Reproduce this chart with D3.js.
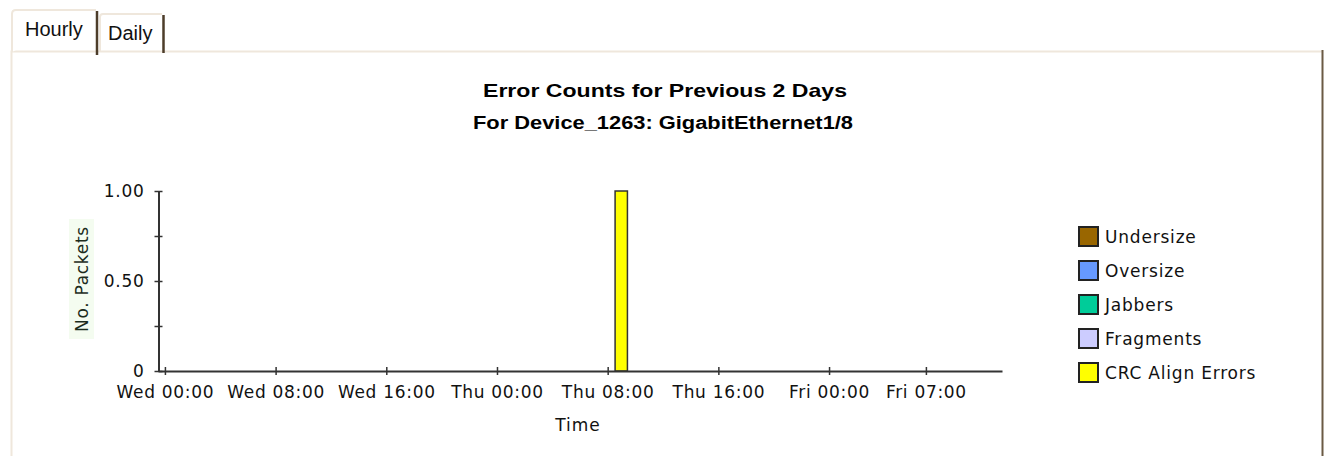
<!DOCTYPE html>
<html>
<head>
<meta charset="utf-8">
<script src="https://cdn.jsdelivr.net/npm/d3@7"></script>
<style>
  body { margin: 0; background: #fff; }
  svg text { font-family: "DejaVu Sans", sans-serif; }
</style>
</head>
<body>
<div id="chart"></div>
<script>
'use strict'

// hours that had errors (every other hour is zero)
const hours = ['2024-01-04T09:00']
const undersize = [0]
const oversize = [0]
const jabbers = [0]
const fragments = [0]
const crcAlign = [1]

const seriesNames = ['Undersize', 'Oversize', 'Jabbers', 'Fragments', 'CRC Align Errors']
const seriesColors = ['#996600', '#6699ff', '#00cc99', '#ccccff', '#ffff00']

const xTicks = ['2024-01-03T00:00', '2024-01-03T08:00', '2024-01-03T16:00', '2024-01-04T00:00',
                '2024-01-04T08:00', '2024-01-04T16:00', '2024-01-05T00:00', '2024-01-05T07:00']
const yTicks = [0, 0.25, 0.5, 0.75, 1]
const yLabels = ['0', '', '0.50', '', '1.00']

const parse = d3.timeParse('%Y-%m-%dT%H:%M')

////////////////////////////////////
//////////// svg setup /////////////
////////////////////////////////////

const svgWidth = 1324, svgHeight = 456
const svg = d3.select('#chart').append('svg')
    .attr('width', svgWidth)
    .attr('height', svgHeight)

// tabs + panel
const tabs = svg.append('g').attr('class', 'tabs')
tabs.append('path')   // panel
    .attr('d', 'M11.5,456 V51.5 H1322')
    .attr('fill', 'none').attr('stroke', '#efe7dc').attr('stroke-width', 2)
tabs.append('line')
    .attr('x1', 1322.5).attr('x2', 1322.5).attr('y1', 50).attr('y2', 456)
    .attr('stroke', '#6b5a44').attr('stroke-width', 2)

// Hourly (active)
tabs.append('path')
    .attr('d', 'M12,52 V14 Q12,10 16,10 H96')
    .attr('fill', '#fff').attr('stroke', '#efe7dc').attr('stroke-width', 2)
tabs.append('line')
    .attr('x1', 97).attr('x2', 97).attr('y1', 11).attr('y2', 55)
    .attr('stroke', '#4d3d2a').attr('stroke-width', 2.5)
tabs.append('text')
    .attr('x', 25).attr('y', 36)
    .style('font-family', '"Liberation Sans", Arial, sans-serif')
    .style('font-size', '20px').attr('fill', '#111')
    .text('Hourly')

// Daily
tabs.append('path')
    .attr('d', 'M100,51 V17 Q100,14 103,14 H162')
    .attr('fill', 'none').attr('stroke', '#efe7dc').attr('stroke-width', 2)
tabs.append('line')
    .attr('x1', 163.5).attr('x2', 163.5).attr('y1', 15).attr('y2', 53)
    .attr('stroke', '#4d3d2a').attr('stroke-width', 2.5)
tabs.append('text')
    .attr('x', 108).attr('y', 40)
    .style('font-family', '"Liberation Sans", Arial, sans-serif')
    .style('font-size', '20px').attr('fill', '#111')
    .text('Daily')

// titles
svg.append('text')
    .attr('x', 665).attr('y', 97)
    .attr('text-anchor', 'middle')
    .style('font-family', '"Liberation Sans", Arial, sans-serif')
    .style('font-weight', 'bold').style('font-size', '19px')
    .attr('textLength', 364).attr('lengthAdjust', 'spacingAndGlyphs')
    .attr('fill', '#000')
    .text('Error Counts for Previous 2 Days')
svg.append('text')
    .attr('x', 663).attr('y', 129)
    .attr('text-anchor', 'middle')
    .style('font-family', '"Liberation Sans", Arial, sans-serif')
    .style('font-weight', 'bold').style('font-size', '18px')
    .attr('textLength', 380).attr('lengthAdjust', 'spacingAndGlyphs')
    .attr('fill', '#000')
    .text('For Device_1263: GigabitEthernet1/8')

////////////////////////////////////
//////////////scales////////////////
////////////////////////////////////

const x = d3.scaleTime()
    .domain([parse('2024-01-02T23:30'), parse('2024-01-05T12:30')])
    .range([158, 1002])

const y = d3.scaleLinear()
    .domain([0, 1])
    .range([371, 191])

// stacked hourly data
const rows = hours.map((h, i) => ({
    time: parse(h),
    'Undersize': undersize[i],
    'Oversize': oversize[i],
    'Jabbers': jabbers[i],
    'Fragments': fragments[i],
    'CRC Align Errors': crcAlign[i]
}))
const stacked = d3.stack().keys(seriesNames)(rows)

const bars = svg.append('g').attr('class', 'bars')
stacked.forEach((layer, k) => {
    bars.selectAll('.b' + k)
        .data(layer.filter(d => d[1] > d[0]))
        .join('rect')
        .attr('x', d => x(d3.timeMinute.offset(d.data.time, -30)) + 0.5)
        .attr('width', d => x(d3.timeMinute.offset(d.data.time, 30)) - x(d3.timeMinute.offset(d.data.time, -30)) - 1.5)
        .attr('y', d => y(d[1]))
        .attr('height', d => y(d[0]) - y(d[1]))
        .attr('fill', seriesColors[k])
        .attr('stroke', '#333')
        .attr('stroke-width', 1.5)
})

// axes
const xAxis = svg.append('g')
    .attr('transform', 'translate(0,371)')
    .call(d3.axisBottom(x)
        .tickValues(xTicks.map(parse))
        .tickFormat(d3.timeFormat('%a %H:%M'))
        .tickSizeOuter(0))
xAxis.select('.domain').attr('stroke', '#333').attr('stroke-width', 2)
xAxis.selectAll('.tick line').attr('y1', -4).attr('y2', 4).attr('stroke', '#333').attr('stroke-width', 1.5)
xAxis.selectAll('.tick text')
    .attr('y', 27).attr('dy', 0)
    .style('font-size', '17px').style('letter-spacing', '0.7px')
    .attr('fill', '#111')

const yAxis = svg.append('g')
    .attr('transform', 'translate(158.5,0)')
    .call(d3.axisLeft(y)
        .tickValues(yTicks)
        .tickFormat((d, i) => yLabels[i])
        .tickSizeOuter(0))
yAxis.select('.domain').attr('stroke', '#333').attr('stroke-width', 2)
yAxis.selectAll('.tick line').attr('x1', -4).attr('x2', 4).attr('stroke', '#333').attr('stroke-width', 1.5)
yAxis.selectAll('.tick text')
    .attr('x', -14).attr('dy', '0.35em')
    .style('font-size', '17px').style('letter-spacing', '0.7px')
    .attr('fill', '#111')

// axis titles
svg.append('rect')
    .attr('x', 69).attr('y', 219).attr('width', 25).attr('height', 120)
    .attr('fill', '#f4fcf0')
svg.append('text')
    .attr('transform', 'translate(88,279) rotate(-90)')
    .attr('text-anchor', 'middle')
    .style('font-size', '17px').style('letter-spacing', '0.7px')
    .attr('fill', '#1c2c1c')
    .text('No. Packets')

svg.append('text')
    .attr('x', 578).attr('y', 431)
    .attr('text-anchor', 'middle')
    .style('font-size', '17px').style('letter-spacing', '1px')
    .attr('fill', '#111')
    .text('Time')

// legend
const legend = svg.append('g').attr('transform', 'translate(1079,227)')
seriesNames.forEach((name, i) => {
    const g = legend.append('g').attr('transform', `translate(0,${i * 34})`)
    g.append('rect')
        .attr('width', 19).attr('height', 19)
        .attr('fill', seriesColors[i])
        .attr('stroke', '#222').attr('stroke-width', 2)
    g.append('text')
        .attr('x', 26).attr('y', 16)
        .style('font-size', '17px').style('letter-spacing', '0.8px')
        .attr('fill', '#111')
        .text(name)
})
</script>
</body>
</html>
